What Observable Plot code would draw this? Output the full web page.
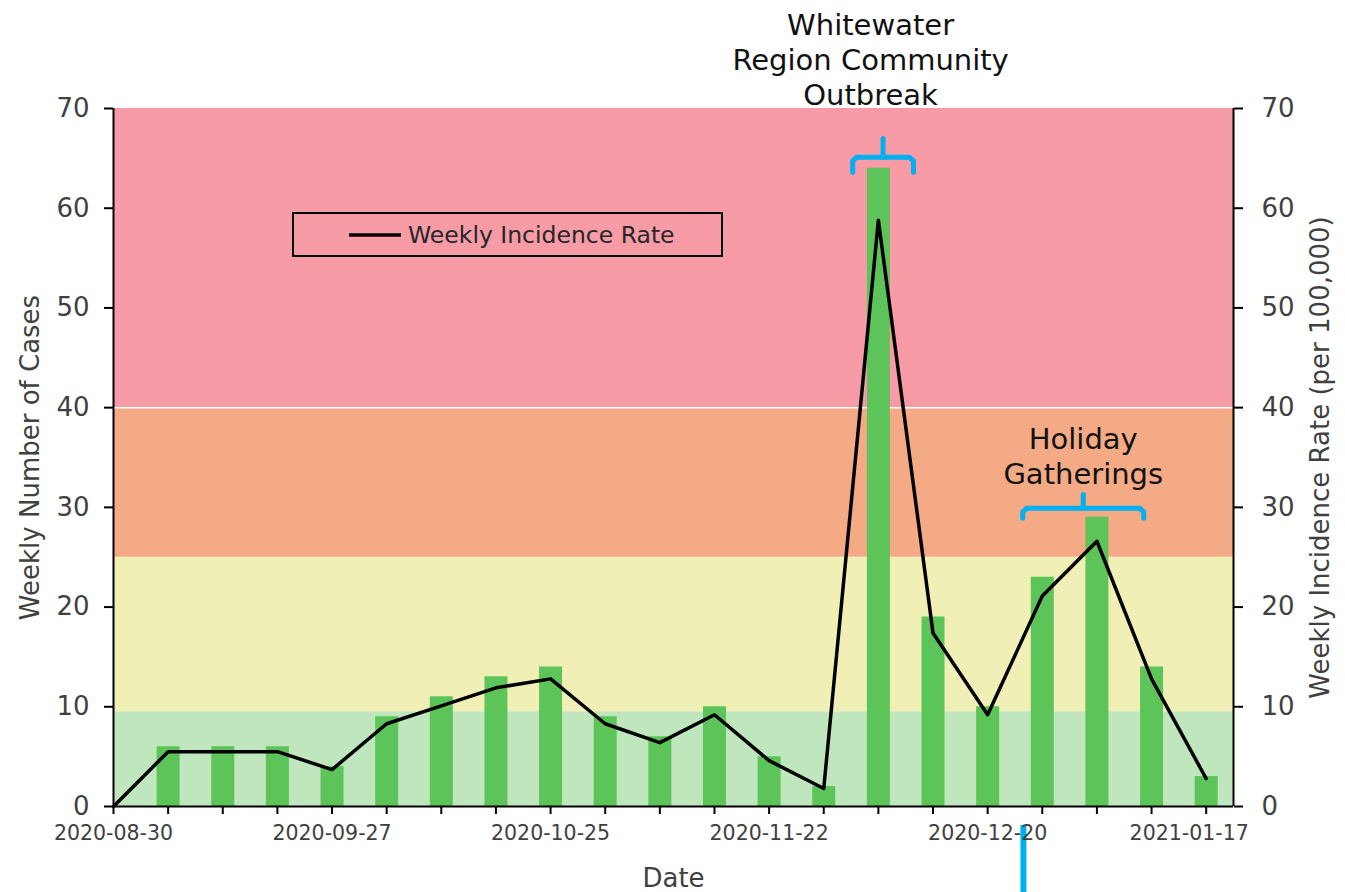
<!DOCTYPE html>
<html>
<head>
<meta charset="utf-8">
<script src="https://cdn.jsdelivr.net/npm/d3@7"></script>
<script src="https://cdn.jsdelivr.net/npm/@observablehq/plot@0.6"></script>
<style>
  html, body { margin: 0; padding: 0; background: #fff; }
  #wrap { position: relative; width: 1345px; height: 892px; overflow: hidden; }
  #legend {
    position: absolute; left: 292px; top: 212px; width: 427px; height: 41px;
    border: 2px solid #000; font-family: 'Century Gothic', 'DejaVu Sans', sans-serif;
    font-size: 23.5px; color: #262626; display: flex; align-items: center;
  }
  #legend svg { margin-left: 54px; margin-right: 6px; }
</style>
</head>
<body>
<div id="wrap"><div id="legend"><svg width="54" height="6"><line x1="1" y1="3" x2="53" y2="3" stroke="#000" stroke-width="3.5"/></svg><span>Weekly Incidence Rate</span></div></div>
<script>
// ---- data ----
const weeks = ["2020-08-30","2020-09-06","2020-09-13","2020-09-20","2020-09-27","2020-10-04","2020-10-11",
  "2020-10-18","2020-10-25","2020-11-01","2020-11-08","2020-11-15","2020-11-22","2020-11-29",
  "2020-12-06","2020-12-13","2020-12-20","2020-12-27","2021-01-03","2021-01-10","2021-01-17"];
const cases = [0,6,6,6,4,9,11,13,14,9,7,10,5,2,64,19,10,23,29,14,3];
const incidence = [0,5.5,5.5,5.5,3.7,8.3,10.1,11.9,12.8,8.3,6.4,9.2,4.6,1.8,58.8,17.4,9.2,21.1,26.6,12.8,2.8];
const tickLabels = ["2020-08-30","2020-09-27","2020-10-25","2020-11-22","2020-12-20","2021-01-17"];
const yTicks = [0,10,20,30,40,50,60,70];
const bandFrom = [0, 9.5, 25, 40];
const bandTo = [9.5, 25, 40, 70];
const bandColors = ["#bfe6bd", "#f0efb5", "#f4aa84", "#f79ca6"];
const xDomain = ["2020-08-30", "2021-01-20T12:00"];
const xTitle = "Date";
const yLeftTitle = "Weekly Number of Cases";
const yRightTitle = "Weekly Incidence Rate (per 100,000)";
const annoText = ["Whitewater\nRegion Community\nOutbreak", "Holiday\nGatherings"];
const annoAt = ["2020-12-05", "2021-01-01T06:00"];
const annoY = [75, 35.2];
const braceStart = ["2020-12-02T17:00", "2020-12-24T12:00"];
const braceEnd = ["2020-12-10T12:00", "2021-01-09T00:00"];
const braceY = [65.1, 29.9];
const braceArm = [1.5, 1.0];
const braceStem = [1.9, 1.4];
const strayAt = "2020-12-24T14:00";
const strayFrom = -1.9, strayTo = -8.8;

// ---- build ----
const P = s => new Date(s.length === 10 ? s + "T00:00Z" : s + "Z");
const data = weeks.map((w, i) => ({date: P(w), cases: cases[i], rate: incidence[i]}));
const bands = bandFrom.map((f, i) => ({y1: f, y2: bandTo[i], fill: bandColors[i]}));
const anno = annoText.map((t, i) => ({x: P(annoAt[i]), y: annoY[i], text: t}));

const bracePts = [];
braceStart.forEach((s, i) => {
  const a = P(s), b = P(braceEnd[i]);
  const m = new Date((+a + +b) / 2);
  const day = 864e5;
  const y = braceY[i], arm = braceArm[i], r = 0.35;
  const pts = [
    [a, y - arm], [a, y - r], [new Date(+a + 0.5 * day), y],
    [new Date(+b - 0.5 * day), y], [b, y - r], [b, y - arm]
  ];
  pts.forEach(p => bracePts.push({x: p[0], y: p[1], id: "b" + i}));
  bracePts.push({x: m, y: y, id: "s" + i});
  bracePts.push({x: m, y: y + braceStem[i], id: "s" + i});
});

const font = "'Century Gothic', 'DejaVu Sans', sans-serif";
const fmt = d3.utcFormat("%Y-%m-%d");
const labelDates = tickLabels.map(P);

const chart = Plot.plot({
  width: 1345,
  height: 892,
  marginLeft: 113,
  marginRight: 112,
  marginTop: 108,
  marginBottom: 86,
  style: {fontFamily: font, background: "transparent", color: "#404040", overflow: "visible"},
  x: {type: "utc", domain: xDomain.map(P)},
  y: {domain: [0, 70]},
  marks: [
    Plot.rectY(bands, {y1: "y1", y2: "y2", fill: "fill"}),
    Plot.ruleY([40], {stroke: "#fff", strokeWidth: 1.5}),
    Plot.ruleX(data, {x: "date", y1: 0, y2: "cases", stroke: "#5dc45a", strokeWidth: 23}),
    Plot.line(data, {x: "date", y: "rate", stroke: "#000", strokeWidth: 3.5, strokeLinejoin: "round"}),
    Plot.line(bracePts, {x: "x", y: "y", z: "id", stroke: "#00b0f0", strokeWidth: 5, strokeLinejoin: "round"}),
    Plot.ruleX([strayAt], {x: d => P(d), y1: strayFrom, y2: strayTo, stroke: "#00b0f0", strokeWidth: 6}),
    Plot.text(anno, {x: "x", y: "y", text: "text", fill: "#111", fontSize: 29, lineHeight: 1.2}),
    Plot.ruleX(xDomain.map(P), {stroke: "#000", strokeWidth: 2}),
    Plot.ruleY([0], {stroke: "#000", strokeWidth: 2}),
    Plot.axisY({anchor: "left", ticks: yTicks, tickSize: 9, tickPadding: 15, fontSize: 26, strokeWidth: 2, stroke: "#000", label: null}),
    Plot.axisY({anchor: "right", ticks: yTicks, tickSize: 9, tickPadding: 19, fontSize: 26, strokeWidth: 2, stroke: "#000", label: null}),
    Plot.axisX({anchor: "bottom", ticks: data.map(d => d.date), tickSize: 8, strokeWidth: 2, stroke: "#000", tickFormat: () => "", label: null}),
    Plot.axisX({anchor: "bottom", ticks: labelDates.slice(0, -1), tickSize: 8, tickPadding: 11, fontSize: 20.5, tickFormat: fmt, stroke: "none", label: null}),
    Plot.axisX({anchor: "bottom", ticks: labelDates.slice(-1), tickSize: 8, tickPadding: 11, fontSize: 20.5, tickFormat: fmt, stroke: "none", dx: -17, label: null}),
    Plot.text([xTitle], {frameAnchor: "bottom", lineAnchor: "middle", dy: 72, fontSize: 26, fill: "#404040"}),
    Plot.text([yLeftTitle], {frameAnchor: "left", textAnchor: "middle", lineAnchor: "middle", dx: -83, rotate: -90, fontSize: 26, fill: "#404040"}),
    Plot.text([yRightTitle], {frameAnchor: "right", textAnchor: "middle", lineAnchor: "middle", dx: 87, rotate: -90, fontSize: 26, fill: "#404040"})
  ]
});
document.getElementById("wrap").prepend(chart);
</script>
</body>
</html>
